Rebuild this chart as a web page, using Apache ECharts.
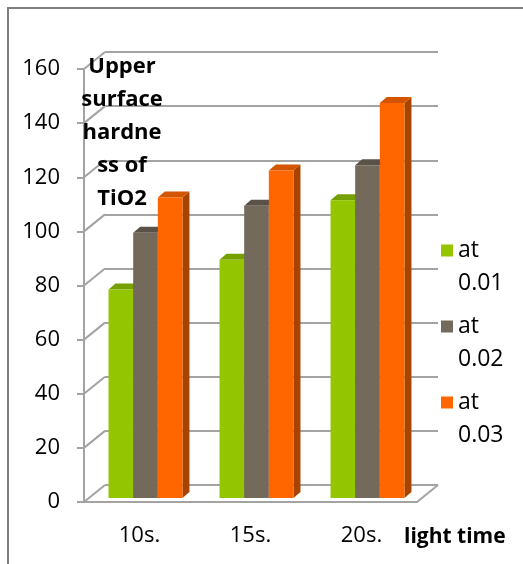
<!DOCTYPE html>
<html>
<head>
<meta charset="utf-8">
<script src="https://cdn.jsdelivr.net/npm/echarts@6/dist/echarts.min.js"></script>
<style>
  html, body { margin: 0; padding: 0; background: #fff; }
  #chart { width: 523px; height: 564px; }
</style>
</head>
<body>
<div id="chart"></div>
<script>
// Light exposure times on the category axis
const categories = ['10s.', '15s.', '20s.'];
// One series per concentration
const seriesNames = ['at 0.01', 'at 0.02', 'at 0.03'];
const valuesAt001 = [77, 88, 110];
const valuesAt002 = [98, 108, 123];
const valuesAt003 = [111, 121, 146];
const seriesValues = [valuesAt001, valuesAt002, valuesAt003];
// Value axis ticks
const yTicks = [0, 20, 40, 60, 80, 100, 120, 140, 160];
const titleText = 'Upper\nsurface\nhardne\nss of\nTiO2';
const xAxisName = 'light time';

const FONT = '"Open Sans", "DejaVu Sans", sans-serif';
const GRID_GREY = '#a3a3a3';
// Face colours: front, top, side
const palette = [
  { front: '#94c600', top: '#76a000', side: '#6a8f00' },
  { front: '#736a5b', top: '#5a5248', side: '#4f473d' },
  { front: '#ff6600', top: '#d45500', side: '#a84300' }
];
// Oblique offset of the back wall and of the bar depth
const WALL_DX = 21, WALL_DY = -17;
const BAR_DX = 7, BAR_DY = -6;

const yMin = yTicks[0], yMax = yTicks[yTicks.length - 1], yStep = yTicks[1] - yTicks[0];

const chart = echarts.init(document.getElementById('chart'), null, { renderer: 'canvas' });

function barSeries(s) {
  return {
    type: 'custom',
    name: seriesNames[s],
    xAxisIndex: 2,
    yAxisIndex: 2,
    itemStyle: { color: palette[s].front },
    data: seriesValues[s].map((v, i) => [i, v]),
    z: 5 + s,
    renderItem: function (params, api) {
      const i = api.value(0), v = api.value(1);
      const base = api.coord([i, 0]);
      const top = api.coord([i, v]);
      const band = api.size([1, 0])[0];
      const w = band * 0.222;
      const x0 = base[0] - 1.5 * w + s * w;
      const ty = top[1], by = base[1];
      const c = palette[s];
      return {
        type: 'group',
        children: [
          {
            type: 'polygon',
            shape: { points: [[x0 + w, ty], [x0 + w + BAR_DX, ty + BAR_DY], [x0 + w + BAR_DX, by + BAR_DY], [x0 + w, by]] },
            style: { fill: c.side }
          },
          {
            type: 'polygon',
            shape: { points: [[x0, ty], [x0 + BAR_DX, ty + BAR_DY], [x0 + w + BAR_DX, ty + BAR_DY], [x0 + w, ty]] },
            style: { fill: c.top }
          },
          {
            type: 'rect',
            shape: { x: x0, y: ty, width: w, height: by - ty },
            style: { fill: c.front }
          }
        ]
      };
    }
  };
}

const option = {
  backgroundColor: '#ffffff',
  animation: false,
  title: {
    text: titleText,
    left: 122,
    top: 50,
    padding: 0,
    textAlign: 'center',
    textStyle: { fontFamily: FONT, fontWeight: 'bold', fontSize: 22, lineHeight: 33, color: '#000' }
  },
  legend: {
    orient: 'vertical',
    left: 441,
    top: 201,
    padding: 0,
    itemGap: -23,
    itemWidth: 12,
    itemHeight: 12,
    icon: 'rect',
    data: seriesNames,
    // blank first line keeps the swatch level with "at"
    formatter: name => '\n' + name.replace(' ', '\n'),
    textStyle: { fontFamily: FONT, fontSize: 23, lineHeight: 33, color: '#000' }
  },
  grid: [
    // front plane: axes and labels
    { left: 84, top: 69, width: 333, height: 433, outerBoundsMode: 'none', containLabel: false },
    // back wall: gridlines
    { left: 84 + WALL_DX, top: 69 + WALL_DY, width: 333, height: 433, outerBoundsMode: 'none', containLabel: false },
    // plane of the bars
    { left: 90, top: 65, width: 333, height: 433, outerBoundsMode: 'none', containLabel: false }
  ],
  xAxis: [
    {
      gridIndex: 0, type: 'category', data: categories,
      axisLine: { lineStyle: { color: GRID_GREY, width: 2 } },
      axisTick: { length: 8, lineStyle: { color: GRID_GREY, width: 2 } },
      axisLabel: { fontFamily: FONT, fontSize: 22, color: '#000', margin: 23 },
      name: xAxisName,
      nameLocation: 'end',
      nameGap: -13,
      nameTextStyle: {
        fontFamily: FONT, fontWeight: 'bold', fontSize: 21, color: '#000',
        align: 'left', verticalAlign: 'top', lineHeight: 70
      }
    },
    { gridIndex: 1, type: 'category', data: categories, show: false },
    { gridIndex: 2, type: 'category', data: categories, show: false }
  ],
  yAxis: [
    {
      gridIndex: 0, type: 'value', min: yMin, max: yMax, interval: yStep,
      axisLine: { show: true, lineStyle: { color: GRID_GREY, width: 2 } },
      axisTick: { show: true, length: 7, lineStyle: { color: GRID_GREY, width: 2 } },
      splitLine: { show: false },
      axisLabel: { fontFamily: FONT, fontSize: 22, color: '#000', margin: 24 }
    },
    {
      gridIndex: 1, type: 'value', min: yMin, max: yMax, interval: yStep,
      axisLine: { show: false }, axisTick: { show: false }, axisLabel: { show: false },
      splitLine: { show: true, lineStyle: { color: GRID_GREY, width: 2 } }
    },
    { gridIndex: 2, type: 'value', min: yMin, max: yMax, interval: yStep, show: false, splitLine: { show: false } }
  ],
  series: [
    {
      // side wall and floor edges joining the front axes to the back wall
      type: 'custom',
      xAxisIndex: 0,
      yAxisIndex: 0,
      silent: true,
      z: 1,
      data: yTicks.map(v => [0, v]),
      renderItem: function (params, api) {
        const cs = params.coordSys;
        const v = api.value(1);
        const y = api.coord([0, v])[1];
        const children = [{
          type: 'line',
          shape: { x1: cs.x, y1: y, x2: cs.x + WALL_DX, y2: y + WALL_DY },
          style: { stroke: GRID_GREY, lineWidth: 2 }
        }];
        if (v === yMin) {
          children.push({
            type: 'line',
            shape: { x1: cs.x + cs.width, y1: y, x2: cs.x + cs.width + WALL_DX, y2: y + WALL_DY },
            style: { stroke: GRID_GREY, lineWidth: 2 }
          });
        }
        return { type: 'group', children };
      }
    },
    barSeries(0),
    barSeries(1),
    barSeries(2)
  ],
  graphic: [
    {
      type: 'rect',
      shape: { x: 8, y: 8, width: 700, height: 700 },
      style: { fill: 'none', stroke: '#7f7f7f', lineWidth: 2 },
      z: 100
    }
  ]
};

chart.setOption(option);
</script>
</body>
</html>
